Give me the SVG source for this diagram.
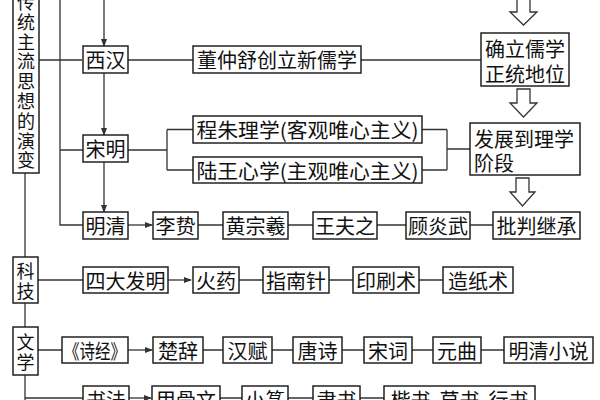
<svg xmlns="http://www.w3.org/2000/svg" width="600" height="400" viewBox="0 0 600 400">
<style>
.b{fill:#fff;stroke:#222;stroke-width:1.5}
.t{font-family:"Noto Sans CJK SC","Noto Sans",sans-serif;font-size:20px;fill:#111;text-anchor:middle;dominant-baseline:central}
.v{font-size:18px}
.c{fill:none;stroke:#333;stroke-width:1.3}
.h{fill:#fff;stroke:#333;stroke-width:1.3}
</style>
<defs>
<marker id="a" markerWidth="8" markerHeight="8" refX="7" refY="4" orient="auto" markerUnits="userSpaceOnUse">
<path d="M0,1 L8,4 L0,7 Z" fill="#333"/>
</marker>
</defs>
<rect width="600" height="400" fill="#fff"/>
<g id="connectors">
<path class="c" d="M39 60 H82 M60 0 V225 H83 M60 150 H83"/>
<path class="c" d="M104 0 V46" marker-end="url(#a)"/>
<path class="c" d="M104 73 V135" marker-end="url(#a)"/>
<path class="c" d="M104 162 V212" marker-end="url(#a)"/>
<path class="c" d="M128 60 H193 M361 60 H481"/>
<path class="c" d="M128 150 H167 M167 129.5 V170 M167 129.5 H193 M167 170 H193"/>
<path class="c" d="M422 129.5 H447 M422 170 H447 M447 129.5 V170 M447 149 H470"/>
<path class="c" d="M128 225 H152" marker-end="url(#a)"/>
<path class="c" d="M198 225 H223 M288 225 H313 M377 225 H406 M470 225 H493"/>
<path class="c" d="M25 173 V400"/>
<path class="c" d="M38 280 H83 M239 280 H263 M329 280 H353 M419 280 H443"/>
<path class="c" d="M168 280 H191" marker-end="url(#a)"/>
<path class="c" d="M38 350 H62 M203 350 H223 M272 350 H293 M342 350 H364 M412 350 H433 M481 350 H504"/>
<path class="c" d="M128 350 H152" marker-end="url(#a)"/>
<path class="c" d="M25 398 H83 M220 398 H242 M288 398 H313 M360 398 H384"/>
<path class="c" d="M129 398 H151" marker-end="url(#a)"/>
<path class="h" d="M517 -2 H530 V12 H537 L523.5 25 L510 12 H517 Z"/>
<path class="h" d="M517 89 H530 V103 H537 L523.5 117 L510 103 H517 Z"/>
<path class="h" d="M516 178 H529 V192 H535 L522.5 206 L510 192 H516 Z"/>
</g>
<g id="n-main"><rect class="b" x="13" y="-10" width="26" height="183"/>
<text class="t v"><tspan x="26" y="1">传</tspan><tspan x="26" y="20.8">统</tspan><tspan x="26" y="40.6">主</tspan><tspan x="26" y="60.4">流</tspan><tspan x="26" y="80.2">思</tspan><tspan x="26" y="100">想</tspan><tspan x="26" y="119.8">的</tspan><tspan x="26" y="139.6">演</tspan><tspan x="26" y="159.4">变</tspan></text></g>
<g id="n-xihan"><rect class="b" x="83" y="46" width="45" height="27"/><text class="t" x="105.5" y="59.5">西汉</text></g>
<g id="n-songming"><rect class="b" x="83" y="135" width="45" height="27"/><text class="t" x="105.5" y="148.5">宋明</text></g>
<g id="n-mingqing"><rect class="b" x="83" y="212" width="45" height="27"/><text class="t" x="105.5" y="225.5">明清</text></g>
<g id="n-dong"><rect class="b" x="193" y="46" width="168" height="27"/><text class="t" x="277" y="59.5">董仲舒创立新儒学</text></g>
<g id="n-queli"><rect class="b" x="481" y="33" width="88" height="53"/><text class="t" x="525" y="48">确立儒学</text><text class="t" x="525" y="73">正统地位</text></g>
<g id="n-chengzhu"><rect class="b" x="193" y="116" width="229" height="27"/><text class="t" x="307.5" y="129.5" textLength="222" lengthAdjust="spacingAndGlyphs">程朱理学(客观唯心主义)</text></g>
<g id="n-luwang"><rect class="b" x="193" y="157" width="229" height="26"/><text class="t" x="307.5" y="170" textLength="222" lengthAdjust="spacingAndGlyphs">陆王心学(主观唯心主义)</text></g>
<g id="n-fazhan"><rect class="b" x="470" y="123" width="110" height="52"/><text class="t" x="474" y="138" style="text-anchor:start">发展到理学</text><text class="t" x="474" y="162" style="text-anchor:start">阶段</text></g>
<g id="n-lizhi"><rect class="b" x="153" y="212" width="45" height="27"/><text class="t" x="175.5" y="225.5">李贽</text></g>
<g id="n-huang"><rect class="b" x="223" y="212" width="65" height="27"/><text class="t" x="255.5" y="225.5">黄宗羲</text></g>
<g id="n-wang"><rect class="b" x="313" y="212" width="64" height="27"/><text class="t" x="345" y="225.5">王夫之</text></g>
<g id="n-gu"><rect class="b" x="406" y="212" width="64" height="27"/><text class="t" x="438" y="225.5">顾炎武</text></g>
<g id="n-pipan"><rect class="b" x="493" y="212" width="87" height="27"/><text class="t" x="536.5" y="225.5">批判继承</text></g>
<g id="n-keji"><rect class="b" x="13" y="257" width="25" height="46"/><text class="t v"><tspan x="25.5" y="270">科</tspan><tspan x="25.5" y="290">技</tspan></text></g>
<g id="n-sida"><rect class="b" x="83" y="267" width="85" height="26"/><text class="t" x="125.5" y="280">四大发明</text></g>
<g id="n-huoyao"><rect class="b" x="193" y="267" width="46" height="26"/><text class="t" x="216" y="280">火药</text></g>
<g id="n-zhinan"><rect class="b" x="263" y="267" width="66" height="26"/><text class="t" x="296" y="280">指南针</text></g>
<g id="n-yinshua"><rect class="b" x="353" y="267" width="66" height="26"/><text class="t" x="386" y="280">印刷术</text></g>
<g id="n-zaozhi"><rect class="b" x="443" y="267" width="70" height="26"/><text class="t" x="478" y="280">造纸术</text></g>
<g id="n-wenxue"><rect class="b" x="13" y="327" width="25" height="48"/><text class="t v"><tspan x="25.5" y="341">文</tspan><tspan x="25.5" y="361">学</tspan></text></g>
<g id="n-shijing"><rect class="b" x="62" y="337" width="66" height="26"/><text class="t" x="95" y="350" textLength="62" lengthAdjust="spacingAndGlyphs">《诗经》</text></g>
<g id="n-chuci"><rect class="b" x="153" y="337" width="50" height="26"/><text class="t" x="178" y="350">楚辞</text></g>
<g id="n-hanfu"><rect class="b" x="223" y="337" width="49" height="26"/><text class="t" x="247.5" y="350">汉赋</text></g>
<g id="n-tangshi"><rect class="b" x="293" y="337" width="49" height="26"/><text class="t" x="317.5" y="350">唐诗</text></g>
<g id="n-songci"><rect class="b" x="364" y="337" width="48" height="26"/><text class="t" x="388" y="350">宋词</text></g>
<g id="n-yuanqu"><rect class="b" x="433" y="337" width="48" height="26"/><text class="t" x="457" y="350">元曲</text></g>
<g id="n-xiaoshuo"><rect class="b" x="504" y="337" width="89" height="26"/><text class="t" x="548.5" y="350">明清小说</text></g>
<g id="n-shufa"><rect class="b" x="83" y="386" width="46" height="27"/><text class="t" x="106" y="399.5">书法</text></g>
<g id="n-jiagu"><rect class="b" x="152" y="386" width="68" height="27"/><text class="t" x="186" y="399.5">甲骨文</text></g>
<g id="n-xiaozhuan"><rect class="b" x="242" y="386" width="46" height="27"/><text class="t" x="265" y="399.5">小篆</text></g>
<g id="n-lishu"><rect class="b" x="313" y="386" width="47" height="27"/><text class="t" x="336.5" y="399.5">隶书</text></g>
<g id="n-kaishu"><rect class="b" x="384" y="386" width="151" height="27"/><text class="t" x="459.5" y="399.5" xml:space="preserve">楷书  草书  行书</text></g>
</svg>
